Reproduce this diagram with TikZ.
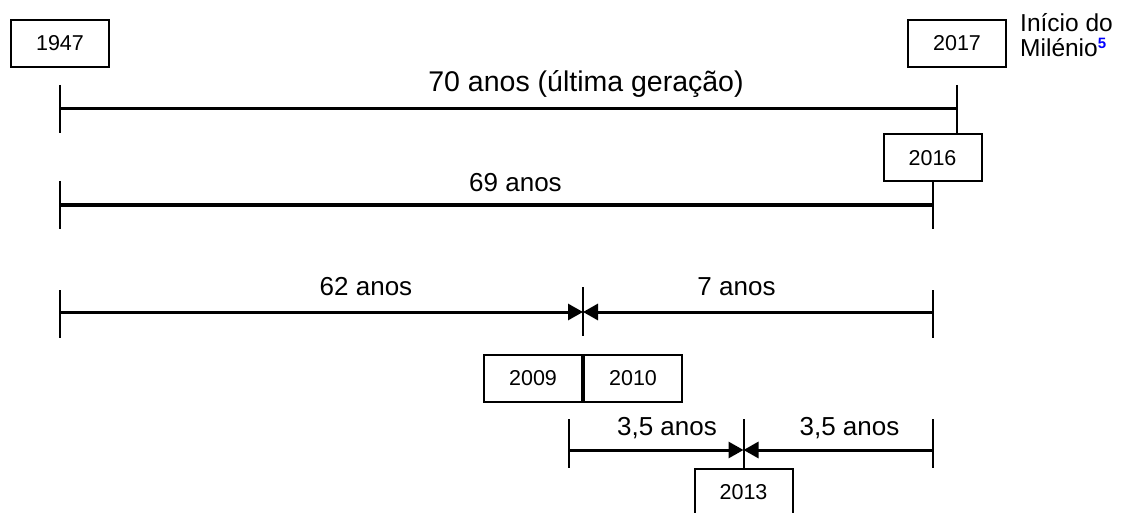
\documentclass[tikz,border=0pt]{standalone}
\usepackage{fontspec}
\setmainfont{Liberation Sans}
\usetikzlibrary{arrows.meta}
\begin{document}
\begin{tikzpicture}[x=1pt,y=-1pt,
  yearbox/.style={draw, line width=2pt, minimum width=98pt, minimum height=47pt, inner sep=0pt, font=\fontsize{21.5}{24}\selectfont},
  lbl/.style={anchor=base, inner sep=0pt, font=\fontsize{26}{30}\selectfont},
  biglbl/.style={lbl, font=\fontsize{28.5}{32}\selectfont},
  note/.style={anchor=base west, inner sep=0pt, font=\fontsize{24.5}{28}\selectfont},
  span/.style={line width=3pt},
  tickline/.style={line width=2pt},
  meet/.style={line width=3pt, -{Triangle[length=15pt,width=16pt]}}]
\useasboundingbox (0,0) rectangle (1121,513);

% year boxes
\node[yearbox] (y1947) at (60,43.5) {1947};
\node[yearbox] (y2017) at (957,43.5) {2017};
\node[yearbox] (y2016) at (932.5,158) {2016};
\node[yearbox] (y2009) at (533,378) {2009};
\node[yearbox] (y2010) at (633,378) {2010};
\node[yearbox] (y2013) at (743.5,492.5) {2013};

% note
\node[note] (n1) at (1020,32) {Início do};
\node[note] (n2) at (1020,57) {Milénio\raisebox{8pt}{\fontsize{15}{15}\selectfont\bfseries\color{blue}5}};

% line 1
\coordinate (t1a) at (60,85);  \coordinate (b1a) at (60,133);
\coordinate (t1b) at (957,85);
\coordinate (l1a) at (60,109); \coordinate (l1b) at (957,109);
\draw[tickline] (t1a) -- (b1a);
\draw[tickline] (t1b) -- (t1b |- y2016.north);
\draw[span] (l1a) -- (l1b);
\node[biglbl] (lab70) at (586,92) {70 anos (última geração)};

% line 2
\coordinate (t2a) at (60,181); \coordinate (b2a) at (60,229);
\coordinate (b2b) at (932.5,229);
\coordinate (l2a) at (60,205); \coordinate (l2b) at (932.5,205);
\draw[tickline] (t2a) -- (b2a);
\draw[tickline] (y2016.south) -- (b2b);
\draw[span] (l2a) -- (l2b);
\node[lbl] (lab69) at (515.5,192) {69 anos};

% line 3
\coordinate (t3a) at (60,290);  \coordinate (b3a) at (60,338);
\coordinate (t3m) at (583,287); \coordinate (b3m) at (583,336);
\coordinate (t3b) at (932.5,290); \coordinate (b3b) at (932.5,338);
\coordinate (l3a) at (60,312); \coordinate (l3m) at (583,312); \coordinate (l3b) at (932.5,312);
\draw[tickline] (t3a) -- (b3a);
\draw[tickline] (t3m) -- (b3m);
\draw[tickline] (t3b) -- (b3b);
\draw[meet] (l3a) -- (l3m);
\draw[meet] (l3b) -- (l3m);
\node[lbl] (lab62) at (366,295) {62 anos};
\node[lbl] (lab7) at (736.5,295) {7 anos};

% line 4
\coordinate (t4a) at (569,419); \coordinate (b4a) at (569,468);
\coordinate (t4m) at (743.5,419);
\coordinate (t4b) at (933,419); \coordinate (b4b) at (933,468);
\coordinate (l4a) at (569,450); \coordinate (l4m) at (743.5,450); \coordinate (l4b) at (933,450);
\draw[tickline] (t4a) -- (b4a);
\draw[tickline] (t4m) -- (y2013.north);
\draw[tickline] (t4b) -- (b4b);
\draw[meet] (l4a) -- (l4m);
\draw[meet] (l4b) -- (l4m);
\node[lbl] (lab35a) at (667,435) {3,5 anos};
\node[lbl] (lab35b) at (849.5,435) {3,5 anos};
\end{tikzpicture}
\end{document}
